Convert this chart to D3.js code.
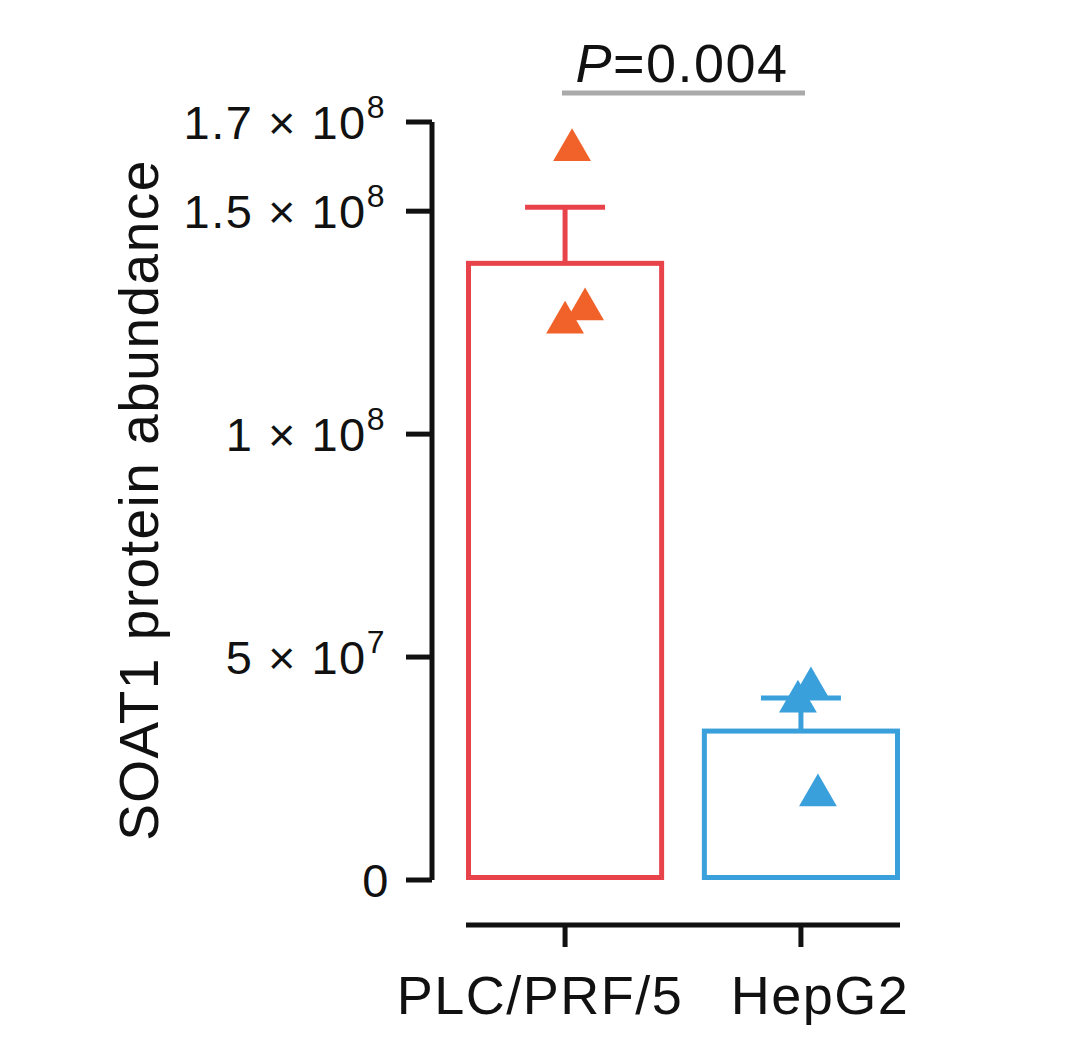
<!DOCTYPE html><html><head><script src="https://d3js.org/d3.v7.min.js"></script>
<style>body{margin:0;background:#fff}</style></head><body><script>
const categories=["PLC/PRF/5","HepG2"];
const means=[138.3e6,33.4e6];
const sems=[12.6e6,7.4e6];
const pointsPLC=[163.7e6,128e6,125e6];
const pointsHep=[43e6,40e6,19e6];
const tickVals=[0,5e7,1e8,1.5e8,1.7e8];
const tickMant=["0","5","1","1.5","1.7"];
const tickExp=["","7","8","8","8"];
const pLabel="0.004";
const barColors=["#e8434a","#3aa0dc"],ptColors=["#f0622a","#3aa0dc"];
const svg=d3.select("body").append("svg").attr("width",1080).attr("height",1055).style("font-family","Liberation Sans, Arial, sans-serif");
const y=d3.scaleLinear().domain([0,1.7e8]).range([880,122]);
const x=d3.scaleBand().domain(categories).range([466,900]).paddingInner(0.16).paddingOuter(0);
svg.append("line").attr("x1",432).attr("x2",432).attr("y1",y(1.7e8)).attr("y2",y(0)).attr("stroke","#111").attr("stroke-width",5);
tickVals.forEach((v,i)=>{
 svg.append("line").attr("x1",406).attr("x2",432).attr("y1",y(v)).attr("y2",y(v)).attr("stroke","#111").attr("stroke-width",5);
 const t=svg.append("text").attr("x",tickExp[i]?386:390).attr("y",y(v)+17).attr("text-anchor","end").attr("font-size",47).attr("letter-spacing",1.5).attr("fill","#111");
 if(tickExp[i]){t.append("tspan").text(tickMant[i]+" × 10");t.append("tspan").attr("dy",-21).attr("font-size",32).text(tickExp[i]);}
 else t.text(tickMant[i]);
});
svg.append("text").attr("transform","translate(158,500) rotate(-90)").attr("text-anchor","middle").attr("font-size",55).attr("letter-spacing",1.5).attr("fill","#111").text("SOAT1 protein abundance");
categories.forEach((c,i)=>{
 const bx=x(c),bw=x.bandwidth(),cx=bx+bw/2;
 svg.append("rect").attr("x",bx+2.5).attr("y",y(means[i])).attr("width",bw-5).attr("height",y(0)-y(means[i])-2.5).attr("fill","none").attr("stroke",barColors[i]).attr("stroke-width",5);
 svg.append("line").attr("x1",cx).attr("x2",cx).attr("y1",y(means[i])).attr("y2",y(means[i]+sems[i])).attr("stroke",barColors[i]).attr("stroke-width",5);
 svg.append("line").attr("x1",cx-40).attr("x2",cx+40).attr("y1",y(means[i]+sems[i])).attr("y2",y(means[i]+sems[i])).attr("stroke",barColors[i]).attr("stroke-width",5);
});
const tri=d3.symbol().type(d3.symbolTriangle).size(620);
const offs=[[7,20,0],[10,-3,17]];
[pointsPLC,pointsHep].forEach((pts,i)=>{
 const cx=x(categories[i])+x.bandwidth()/2;
 pts.forEach((v,j)=>svg.append("path").attr("d",tri).attr("transform",`translate(${cx+offs[i][j]},${y(v)})`).attr("fill",ptColors[i]));
});
svg.append("line").attr("x1",466).attr("x2",900).attr("y1",925).attr("y2",925).attr("stroke","#111").attr("stroke-width",5);
categories.forEach((c,i)=>{
 const cx=x(c)+x.bandwidth()/2;
 svg.append("line").attr("x1",cx).attr("x2",cx).attr("y1",925).attr("y2",947).attr("stroke","#111").attr("stroke-width",5);
 svg.append("text").attr("x",i?820:540).attr("y",1014).attr("text-anchor","middle").attr("font-size",54).attr("letter-spacing",1.5).attr("fill","#111").text(c);
});
svg.append("line").attr("x1",562).attr("x2",805).attr("y1",93).attr("y2",93).attr("stroke","#aaa").attr("stroke-width",5);
const pt=svg.append("text").attr("x",682).attr("y",82).attr("text-anchor","middle").attr("font-size",54).attr("letter-spacing",1.5).attr("fill","#111");
pt.append("tspan").attr("font-style","italic").text("P");pt.append("tspan").text("="+pLabel);
</script></body></html>
